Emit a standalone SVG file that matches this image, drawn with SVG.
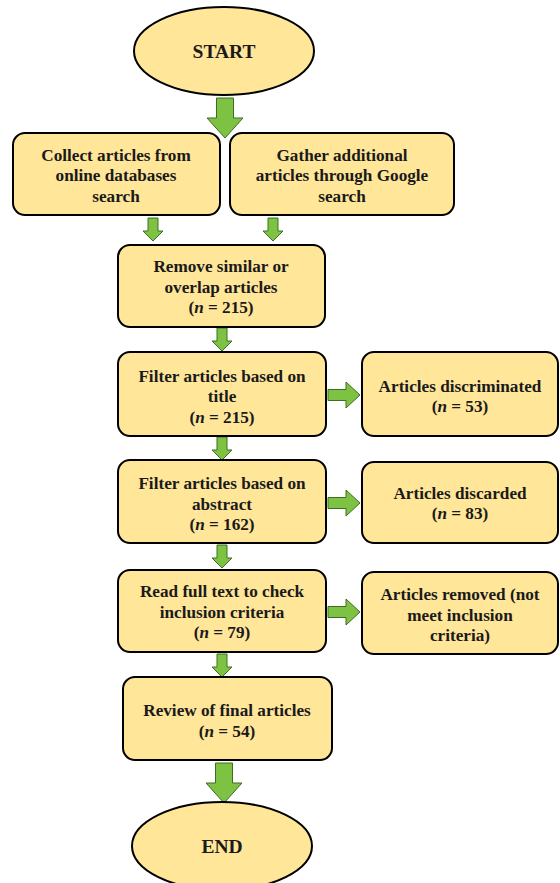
<svg xmlns="http://www.w3.org/2000/svg" width="560" height="883" viewBox="0 0 560 883">
<style>
.n{fill:#FFE699;stroke:#000;stroke-width:2}
.t{font-family:"Liberation Serif","Times New Roman",serif;font-weight:bold;font-size:17.2px;fill:#1a1a1a;text-anchor:middle}
.t2{font-family:"Liberation Serif","Times New Roman",serif;font-weight:bold;font-size:19.5px;fill:#1a1a1a;text-anchor:middle}
.a{fill:#7DC242;stroke:#3E6E1F;stroke-width:1}
.i{font-style:italic}
</style>
<defs>
<path id="down" d="M-5,0 H5 V13 H10 L0,23 L-10,13 H-5 Z"/>
<path id="right" d="M0,-5.5 H18 V-13 L32,0 L18,13 V5.5 H0 Z"/>
<path id="bigdown" d="M-8.5,0 H8.5 V20 H18 L0,40 L-18,20 H-8.5 Z"/>
</defs>
<g id="connectors">
<use href="#bigdown" class="a" x="225" y="98"/>
<use href="#down" class="a" x="153" y="218"/>
<use href="#down" class="a" x="273" y="218"/>
<use href="#down" class="a" x="222" y="328"/>
<use href="#down" class="a" x="222" y="437"/>
<use href="#down" class="a" x="222" y="545"/>
<use href="#down" class="a" x="222" y="654"/>
<use href="#right" class="a" x="328" y="395"/>
<use href="#right" class="a" x="328" y="503"/>
<use href="#right" class="a" x="328" y="612"/>
<use href="#bigdown" class="a" x="224" y="763"/>
</g>
<g id="start">
<ellipse class="n" cx="224" cy="51" rx="90" ry="44"/>
<text class="t2" x="224" y="58">START</text>
</g>
<g id="collect">
<rect class="n" x="13" y="133" width="207" height="82" rx="12"/>
<text class="t" x="116" y="161">Collect articles from</text>
<text class="t" x="116" y="181">online databases</text>
<text class="t" x="116" y="202">search</text>
</g>
<g id="gather">
<rect class="n" x="230" y="133" width="224" height="82" rx="12"/>
<text class="t" x="342" y="161">Gather additional</text>
<text class="t" x="342" y="181">articles through Google</text>
<text class="t" x="342" y="202">search</text>
</g>
<g id="remove">
<rect class="n" x="118" y="245" width="207" height="82" rx="12"/>
<text class="t" x="221" y="272">Remove similar or</text>
<text class="t" x="221" y="293">overlap articles</text>
<text class="t" x="221" y="313">(<tspan class="i">n</tspan> = 215)</text>
</g>
<g id="filter-title">
<rect class="n" x="118" y="352" width="208" height="84" rx="12"/>
<text class="t" x="222" y="382">Filter articles based on</text>
<text class="t" x="222" y="402">title</text>
<text class="t" x="222" y="423">(<tspan class="i">n</tspan> = 215)</text>
</g>
<g id="discriminated">
<rect class="n" x="362" y="352" width="196" height="84" rx="12"/>
<text class="t" x="460" y="392">Articles discriminated</text>
<text class="t" x="460" y="412">(<tspan class="i">n</tspan> = 53)</text>
</g>
<g id="filter-abstract">
<rect class="n" x="118" y="460" width="208" height="83" rx="12"/>
<text class="t" x="222" y="489">Filter articles based on</text>
<text class="t" x="222" y="510">abstract</text>
<text class="t" x="222" y="530">(<tspan class="i">n</tspan> = 162)</text>
</g>
<g id="discarded">
<rect class="n" x="362" y="462" width="196" height="81" rx="12"/>
<text class="t" x="460" y="499">Articles discarded</text>
<text class="t" x="460" y="519">(<tspan class="i">n</tspan> = 83)</text>
</g>
<g id="read">
<rect class="n" x="118" y="570" width="208" height="82" rx="12"/>
<text class="t" x="222" y="597">Read full text to check</text>
<text class="t" x="222" y="618">inclusion criteria</text>
<text class="t" x="222" y="638">(<tspan class="i">n</tspan> = 79)</text>
</g>
<g id="removed">
<rect class="n" x="362" y="572" width="196" height="82" rx="12"/>
<text class="t" x="460" y="600">Articles removed (not</text>
<text class="t" x="460" y="621">meet inclusion</text>
<text class="t" x="460" y="641">criteria)</text>
</g>
<g id="review">
<rect class="n" x="123" y="677" width="209" height="83" rx="12"/>
<text class="t" x="227" y="716">Review of final articles</text>
<text class="t" x="227" y="737">(<tspan class="i">n</tspan> = 54)</text>
</g>
<g id="end">
<ellipse class="n" cx="222" cy="846" rx="90" ry="44"/>
<text class="t2" x="222" y="853">END</text>
</g>
</svg>
